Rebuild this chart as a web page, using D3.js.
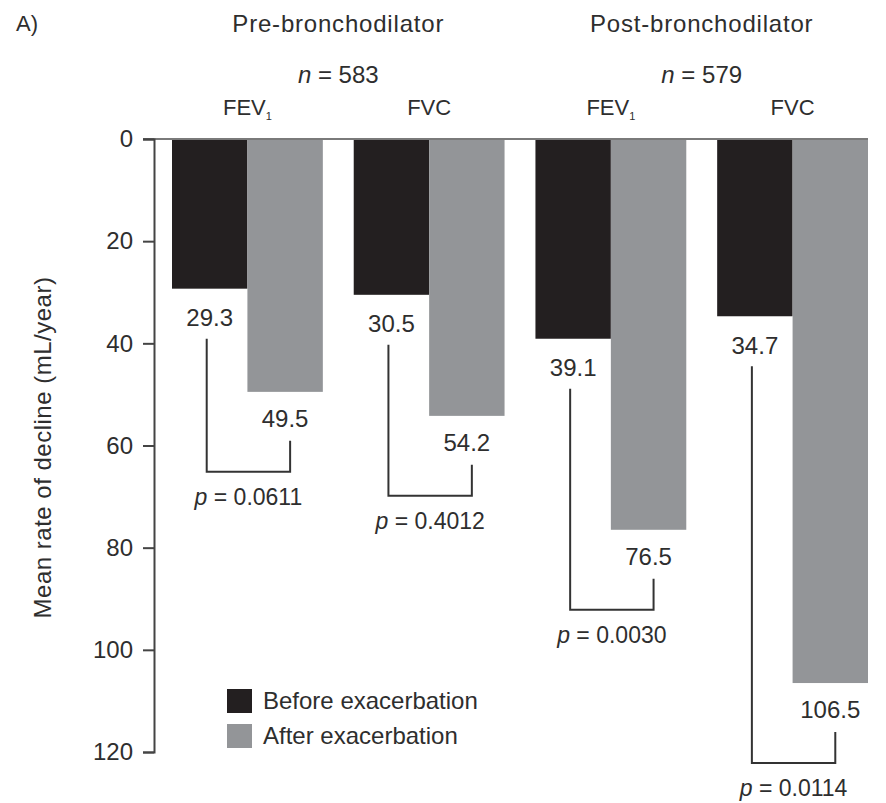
<!DOCTYPE html>
<html>
<head>
<meta charset="utf-8">
<script src="https://cdn.jsdelivr.net/npm/d3@7"></script>
<style>
  body { margin: 0; background: #fff; }
  text { font-family: "Liberation Sans", Arial, Helvetica, sans-serif; fill: #2e2e2e; }
</style>
</head>
<body>
<div id="my_dataviz"></div>
<script>
// data
var groups = ["preFEV1", "preFVC", "postFEV1", "postFVC"];
var measures = ["FEV", "FVC", "FEV", "FVC"];
var phases = ["Pre-bronchodilator", "Post-bronchodilator"];
var nValues = [583, 579];
var beforeValues = [29.3, 30.5, 39.1, 34.7];
var afterValues = [49.5, 54.2, 76.5, 106.5];
var pValues = ["0.0611", "0.4012", "0.0030", "0.0114"];
var seriesNames = ["Before exacerbation", "After exacerbation"];
var seriesKeys = ["before", "after"];
var colors = ["#231f20", "#939598"];
var yTicks = [0, 20, 40, 60, 80, 100, 120];

var width = 886, height = 803;

var svg = d3.select("#my_dataviz")
  .append("svg")
    .attr("width", width)
    .attr("height", height);

// scales
var y = d3.scaleLinear()
  .domain([0, 120])
  .range([139, 752]);

var x = d3.scaleBand()
  .domain(groups)
  .range([172, 868])
  .paddingInner(0.17)
  .paddingOuter(0);

var xSub = d3.scaleBand()
  .domain(seriesKeys)
  .range([0, x.bandwidth()]);

var color = d3.scaleOrdinal().domain(seriesKeys).range(colors);

var rows = groups.map(function(g, i) {
  return {group: g, before: beforeValues[i], after: afterValues[i], p: pValues[i], measure: measures[i]};
});

// bars
var gBars = svg.append("g");
rows.forEach(function(r) {
  seriesKeys.forEach(function(k) {
    gBars.append("rect")
      .attr("x", x(r.group) + xSub(k))
      .attr("width", xSub.bandwidth())
      .attr("y", y(0))
      .attr("height", y(r[k]) - y(0))
      .attr("fill", color(k));
  });
});

// zero line across the top
svg.append("line")
  .attr("x1", 143).attr("x2", x.range()[1])
  .attr("y1", y(0)).attr("y2", y(0))
  .attr("stroke", "#7a7a7a")
  .attr("stroke-width", 2);

// Y axis
var yAxis = svg.append("g")
  .attr("transform", "translate(154,0)")
  .call(d3.axisLeft(y).tickValues(yTicks).tickSize(11).tickSizeOuter(11).tickPadding(10));
yAxis.select(".domain").attr("stroke", "#444").attr("stroke-width", 2);
yAxis.selectAll(".tick line").attr("stroke", "#444").attr("stroke-width", 2);
yAxis.selectAll(".tick text")
  .style("font-size", "24px")
  .style("font-family", "'Liberation Sans', Arial, sans-serif")
  .attr("fill", "#2e2e2e");

svg.append("text")
  .attr("transform", "translate(42," + ((y(0) + y(120)) / 2 + 2) + ")rotate(-90)")
  .attr("text-anchor", "middle")
  .attr("dominant-baseline", "central")
  .style("font-size", "24px")
  .style("letter-spacing", "0.5px")
  .text("Mean rate of decline (mL/year)");

// value labels, brackets and p values
function center(g, k) { return x(g) + xSub(k) + xSub.bandwidth() / 2; }

rows.forEach(function(r) {
  var bx = center(r.group, "before"), ax = center(r.group, "after");
  var by = y(r.before) + 29, ay = y(r.after) + 27;
  svg.append("text").attr("x", bx).attr("y", by).attr("dy", "0.35em")
    .attr("text-anchor", "middle").style("font-size", "24px").text(r.before.toFixed(1));
  svg.append("text").attr("x", ax).attr("y", ay).attr("dy", "0.35em")
    .attr("text-anchor", "middle").style("font-size", "24px").text(r.after.toFixed(1));

  var lx = bx - 3, rx = ax + 5, hy = y(r.after) + 80;
  svg.append("path")
    .attr("d", "M" + lx + "," + (by + 21) + "V" + hy + "H" + rx + "V" + (ay + 22))
    .attr("fill", "none")
    .attr("stroke", "#333")
    .attr("stroke-width", 2);

  var pt = svg.append("text").attr("x", (lx + rx) / 2).attr("y", hy + 25).attr("dy", "0.35em")
    .attr("text-anchor", "middle").style("font-size", "23px");
  pt.append("tspan").style("font-style", "italic").text("p");
  pt.append("tspan").text(" = " + r.p);
});

// column headers
rows.forEach(function(r) {
  var t = svg.append("text")
    .attr("x", x(r.group) + x.bandwidth() / 2)
    .attr("y", 115)
    .attr("text-anchor", "middle")
    .style("font-size", "22px");
  t.append("tspan").text(r.measure);
  if (r.measure === "FEV") {
    t.append("tspan").attr("dy", 5).style("font-size", "11px").text("1");
  }
});

// phase headers
phases.forEach(function(ph, i) {
  var cx = (x(groups[i * 2]) + x(groups[i * 2 + 1]) + x.bandwidth()) / 2;
  svg.append("text")
    .attr("x", cx).attr("y", 32)
    .attr("text-anchor", "middle")
    .style("font-size", "24px")
    .style("letter-spacing", "0.8px")
    .text(ph);
  var nt = svg.append("text")
    .attr("x", cx).attr("y", 83)
    .attr("text-anchor", "middle")
    .style("font-size", "24px");
  nt.append("tspan").style("font-style", "italic").text("n");
  nt.append("tspan").text(" = " + nValues[i]);
});

svg.append("text")
  .attr("x", 16).attr("y", 31)
  .style("font-size", "22px")
  .text("A)");

// legend
var legend = svg.append("g").attr("transform", "translate(227,689)");
seriesNames.forEach(function(name, i) {
  legend.append("rect")
    .attr("x", 0).attr("y", i * 35)
    .attr("width", 25).attr("height", 24)
    .attr("fill", colors[i]);
  legend.append("text")
    .attr("x", 36).attr("y", i * 35 + 12)
    .attr("dy", "0.35em")
    .style("font-size", "24px")
    .text(name);
});
</script>
</body>
</html>
